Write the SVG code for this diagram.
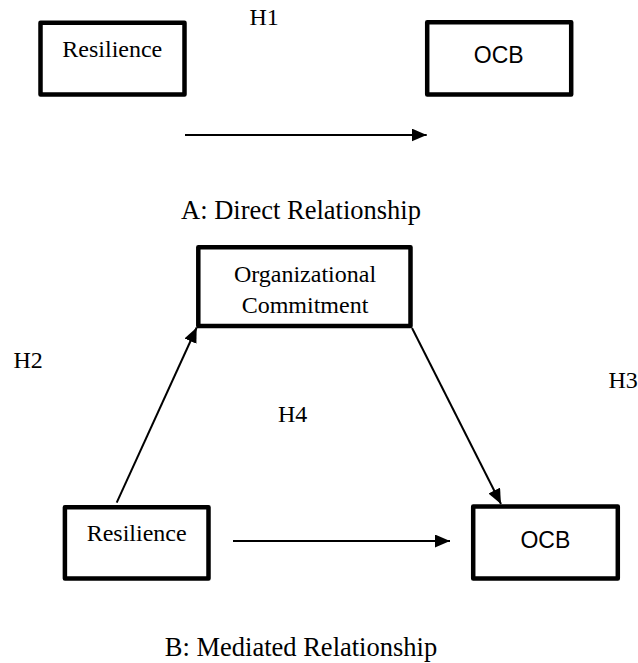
<svg xmlns="http://www.w3.org/2000/svg" width="638" height="663" viewBox="0 0 638 663">
<style>
.box{fill:#fff;stroke:#000;stroke-width:4.5;stroke-linejoin:round}
.serif{font-family:"Liberation Serif","Times New Roman",serif;fill:#000}
.lbl{font-size:24px}
.cap{font-size:26.5px}
.sans{font-family:"Liberation Sans",Arial,sans-serif;font-size:23px;fill:#000}
.con{stroke:#000;stroke-width:2;fill:none;marker-end:url(#arr)}
</style>
<defs>
<marker id="arr" viewBox="0 0 15 13" refX="15" refY="6.5" markerWidth="15" markerHeight="13" markerUnits="userSpaceOnUse" orient="auto">
<path d="M0,0 L15,6.5 L0,13 z" fill="#000"/>
</marker>
</defs>
<rect width="638" height="663" fill="#fff"/>
<g id="connectors">
<line class="con" x1="185" y1="135" x2="426.7" y2="135"/>
<line class="con" x1="233" y1="541" x2="450" y2="541"/>
<line class="con" x1="116.7" y1="502.7" x2="196.7" y2="327.5"/>
<line class="con" x1="412" y1="328" x2="501" y2="504"/>
</g>
<g id="resilience-a">
<rect class="box" x="40.5" y="22.8" width="144" height="71.8"/>
<text class="serif lbl" x="112.3" y="57.3" text-anchor="middle">Resilience</text>
</g>
<g id="ocb-a">
<rect class="box" x="427.2" y="22.2" width="144" height="72.3"/>
<text class="sans" x="498.7" y="63.3" text-anchor="middle">OCB</text>
</g>
<g id="org-commitment">
<rect class="box" x="198.3" y="247.3" width="212.2" height="78.8"/>
<text class="serif lbl" x="305" y="281.7" text-anchor="middle">Organizational</text>
<text class="serif lbl" x="305" y="312.7" text-anchor="middle">Commitment</text>
</g>
<g id="resilience-b">
<rect class="box" x="64.9" y="507.2" width="143.6" height="71.3"/>
<text class="serif lbl" x="136.7" y="540.7" text-anchor="middle">Resilience</text>
</g>
<g id="ocb-b">
<rect class="box" x="473.2" y="506.5" width="144.6" height="72"/>
<text class="sans" x="545.3" y="548.3" text-anchor="middle">OCB</text>
</g>
<g id="labels">
<text class="serif lbl" x="249.5" y="25">H1</text>
<text class="serif lbl" x="13.5" y="368">H2</text>
<text class="serif lbl" x="608.5" y="387.5">H3</text>
<text class="serif lbl" x="278" y="421.7">H4</text>
<text class="serif cap" x="301" y="219.3" text-anchor="middle">A: Direct Relationship</text>
<text class="serif cap" x="301" y="656" text-anchor="middle">B: Mediated Relationship</text>
</g>
</svg>
